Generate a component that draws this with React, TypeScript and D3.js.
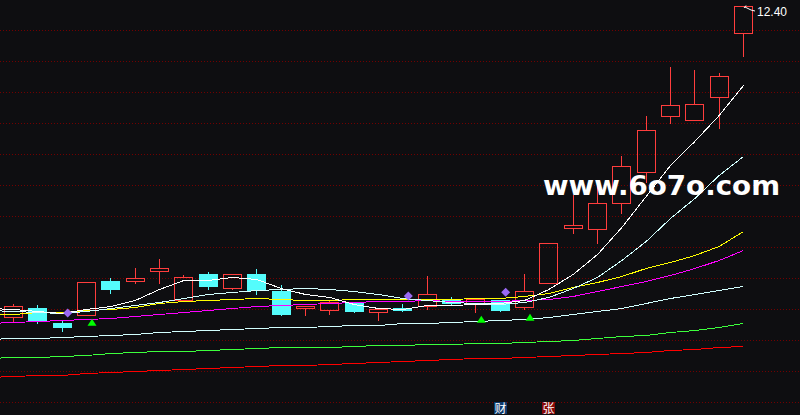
import React from 'react';
import * as d3 from 'd3';

const W = 800;
const H = 415;

// ---- candles (31 trading days) ----
const opens = [6.186, 6.36, 6.066, 6.22, 6.906, 6.906, 7.094, 6.52, 7.04, 6.766, 7.04, 6.70, 6.366, 6.326, 6.48, 6.274, 6.366, 6.40, 6.55, 6.46, 6.52, 6.374, 6.854, 7.954, 7.934, 8.454, 9.074, 10.194, 10.114, 10.574, 11.854];
const highs = [6.44, 6.42, 6.10, 6.88, 6.96, 7.16, 7.34, 7.026, 7.08, 7.04, 7.14, 6.814, 6.41, 6.52, 6.48, 6.34, 6.446, 7.006, 6.58, 6.54, 6.53, 7.04, 7.66, 8.62, 8.80, 9.40, 10.20, 11.186, 11.12, 11.06, 12.40];
const lows = [6.08, 6.06, 5.906, 6.22, 6.654, 6.866, 6.854, 6.52, 6.734, 6.74, 6.646, 6.226, 6.22, 6.246, 6.28, 6.12, 6.31, 6.34, 6.44, 6.286, 6.306, 6.334, 6.854, 7.854, 7.654, 8.266, 8.886, 10.066, 10.114, 9.966, 11.406];
const closes = [6.394, 6.10, 5.986, 6.88, 6.74, 6.954, 7.16, 6.974, 6.806, 7.04, 6.72, 6.246, 6.40, 6.474, 6.30, 6.334, 6.32, 6.64, 6.47, 6.54, 6.32, 6.694, 7.66, 8.02, 8.454, 9.194, 9.914, 10.414, 10.434, 11.00, 12.40];

// ---- moving averages (first value = day before the first visible candle) ----
const ma5 = [6.36, 6.35, 6.30, 6.26, 6.34, 6.41, 6.52, 6.73, 6.93, 6.926, 6.98, 6.934, 6.77, 6.646, 6.576, 6.434, 6.354, 6.35, 6.414, 6.43, 6.45, 6.46, 6.526, 6.734, 7.04, 7.44, 7.98, 8.61, 9.22, 9.70, 10.23, 10.82];
const ma10 = [6.32, 6.31, 6.28, 6.26, 6.31, 6.37, 6.42, 6.48, 6.56, 6.64, 6.68, 6.714, 6.74, 6.77, 6.75, 6.70, 6.65, 6.57, 6.52, 6.48, 6.47, 6.45, 6.49, 6.58, 6.77, 6.98, 7.32, 7.70, 8.16, 8.57, 9.02, 9.40];
const ma20 = [6.23, 6.25, 6.274, 6.29, 6.314, 6.346, 6.39, 6.466, 6.50, 6.52, 6.55, 6.554, 6.534, 6.514, 6.53, 6.54, 6.54, 6.54, 6.546, 6.546, 6.566, 6.56, 6.61, 6.67, 6.78, 6.886, 7.00, 7.15, 7.29, 7.43, 7.60, 7.90];
const ma30 = [6.07, 6.074, 6.094, 6.114, 6.134, 6.166, 6.21, 6.25, 6.29, 6.314, 6.37, 6.41, 6.43, 6.45, 6.47, 6.49, 6.494, 6.51, 6.514, 6.51, 6.504, 6.504, 6.514, 6.544, 6.61, 6.70, 6.794, 6.91, 7.03, 7.16, 7.32, 7.514];
const ma60 = [5.746, 5.754, 5.766, 5.78, 5.80, 5.83, 5.85, 5.88, 5.90, 5.92, 5.95, 5.97, 5.98, 5.99, 6.01, 6.02, 6.03, 6.054, 6.07, 6.09, 6.11, 6.13, 6.15, 6.19, 6.23, 6.296, 6.37, 6.46, 6.554, 6.64, 6.716, 6.794];
const ma120 = [5.37, 5.374, 5.39, 5.394, 5.43, 5.454, 5.474, 5.494, 5.494, 5.514, 5.534, 5.554, 5.574, 5.574, 5.59, 5.594, 5.614, 5.614, 5.634, 5.634, 5.654, 5.654, 5.674, 5.70, 5.73, 5.766, 5.794, 5.83, 5.874, 5.93, 5.99, 6.054];
const ma250 = [4.99, 4.994, 5.014, 5.014, 5.054, 5.074, 5.094, 5.114, 5.134, 5.154, 5.174, 5.194, 5.214, 5.214, 5.234, 5.254, 5.274, 5.294, 5.314, 5.334, 5.354, 5.36, 5.374, 5.394, 5.414, 5.434, 5.454, 5.49, 5.514, 5.544, 5.574, 5.594];

const maSeries = [
  { name: 'MA250', values: ma250, color: '#ff0000' },
  { name: 'MA120', values: ma120, color: '#3cff3c' },
  { name: 'MA60', values: ma60, color: '#d2ffff' },
  { name: 'MA30', values: ma30, color: '#ff00ff' },
  { name: 'MA20', values: ma20, color: '#ffff00' },
  { name: 'MA10', values: ma10, color: '#d2ffff' },
  { name: 'MA5', values: ma5, color: '#ffffff' },
];

// ---- signal markers ----
const diamondDays = [2, 16, 20];
const diamondPrices = [6.26, 6.60, 6.674];
const triangleDays = [3, 19, 21];
const trianglePrices = [6.006, 6.066, 6.106];

// ---- grid price levels ----
const gridLevels = [11.92, 11.30, 10.68, 10.06, 9.44, 8.82, 8.20, 7.58, 6.96, 6.34, 5.72, 5.10, 4.48];

const lastPriceLabel = '12.40';
const watermark = 'www.6o7o.com';
const badgeDays = [20, 22];
const badgeTexts = ['财', '张'];
const badgeColors = ['#0d3a6c', '#880808'];

const UP = '#ff3d3d';
const DOWN = '#54fcfc';

export default function App() {
  const x = d3.scaleLinear().domain([0, 30]).range([13, 743]);
  const y = d3.scaleLinear().domain([4.48, 12.4]).range([402, 6]);
  const cx = (i: number) => Math.round(x(i));
  const py = (v: number) => Math.round(y(v));

  const line = d3
    .line<number>()
    .x((_, j) => x(j - 1) + 0.5)
    .y((d) => py(d) + 0.5);

  const lastIdx = closes.length - 1;

  return (
    <svg
      width={W}
      height={H}
      style={{ position: 'absolute', left: 0, top: 0, display: 'block' }}
    >
      <rect x={0} y={0} width={W} height={H} fill="#0e0e11" />
      {gridLevels.map((g, k) => (
        <line
          key={'g' + k}
          x1={0}
          x2={W}
          y1={py(g) + 0.5}
          y2={py(g) + 0.5}
          stroke="#720000"
          strokeWidth={1}
          strokeDasharray="1 2"
        />
      ))}

      {closes.map((c, i) => {
        const o = opens[i];
        const h = highs[i];
        const l = lows[i];
        const X = cx(i);
        const top = py(Math.max(o, c));
        const bot = py(Math.min(o, c));
        const yh = py(h);
        const yl = py(l);
        if (c >= o) {
          return (
            <g key={'c' + i}>
              {yh < top && (
                <line x1={X + 0.5} x2={X + 0.5} y1={yh} y2={top} stroke={UP} strokeWidth={1} />
              )}
              {yl > bot && (
                <line x1={X + 0.5} x2={X + 0.5} y1={bot + 1} y2={yl + 1} stroke={UP} strokeWidth={1} />
              )}
              <rect
                x={X - 9 + 0.5}
                y={top + 0.5}
                width={18}
                height={Math.max(bot - top, 1)}
                fill="none"
                stroke={UP}
                strokeWidth={1}
              />
            </g>
          );
        }
        return (
          <g key={'c' + i}>
            <line x1={X + 0.5} x2={X + 0.5} y1={yh} y2={yl + 1} stroke={DOWN} strokeWidth={1} />
            <rect x={X - 9} y={top} width={19} height={Math.max(bot - top + 1, 1)} fill={DOWN} />
          </g>
        );
      })}

      {maSeries.map((s) => (
        <path
          key={s.name}
          d={line(s.values) || ''}
          fill="none"
          stroke={s.color}
          strokeWidth={1}
          shapeRendering="crispEdges"
        />
      ))}

      {diamondDays.map((d, k) => {
        const X = x(d) + 6;
        const Y = y(diamondPrices[k]);
        return (
          <path
            key={'dm' + k}
            d={`M${X},${Y - 4.5}L${X + 4.5},${Y}L${X},${Y + 4.5}L${X - 4.5},${Y}Z`}
            fill="#9a6af2"
          />
        );
      })}
      {triangleDays.map((d, k) => {
        const X = x(d) + 6;
        const Y = y(trianglePrices[k]);
        return (
          <path
            key={'tr' + k}
            d={`M${X},${Y - 7}L${X + 4.5},${Y}L${X - 4.5},${Y}Z`}
            fill="#00ff00"
          />
        );
      })}

      <text
        x={543}
        y={195}
        fontFamily="DejaVu Sans, Verdana, sans-serif"
        fontWeight="bold"
        fontSize={27}
        fill="#ffffff"
        textLength={237}
        lengthAdjust="spacingAndGlyphs"
      >
        {watermark}
      </text>

      {/* last price marker */}
      <path
        d={`M${cx(lastIdx) + 1},${py(highs[lastIdx]) + 2}L${cx(lastIdx) + 3},${py(highs[lastIdx]) - 0.5}M${cx(lastIdx) + 2},${py(highs[lastIdx]) + 1}L${cx(lastIdx) + 8},${py(highs[lastIdx]) + 4}L${cx(lastIdx) + 12},${py(highs[lastIdx]) + 5}`}
        fill="none"
        stroke="#ffffff"
        strokeWidth={1}
      />
      <text
        x={cx(lastIdx) + 14}
        y={py(highs[lastIdx]) + 10}
        fontFamily="Liberation Sans, Arial, sans-serif"
        fontSize={13}
        fill="#ffffff"
        textLength={30}
        lengthAdjust="spacingAndGlyphs"
      >
        {lastPriceLabel}
      </text>

      {badgeDays.map((d, k) => {
        const X = cx(d);
        return (
          <g key={'b' + k}>
            <rect x={X - 6} y={402} width={13} height={12} fill={badgeColors[k]} />
            <text
              x={X + 0.5}
              y={412.5}
              textAnchor="middle"
              fontFamily="Noto Sans CJK SC, sans-serif"
              fontSize={12}
              fill="#ffffff"
            >
              {badgeTexts[k]}
            </text>
          </g>
        );
      })}
    </svg>
  );
}
